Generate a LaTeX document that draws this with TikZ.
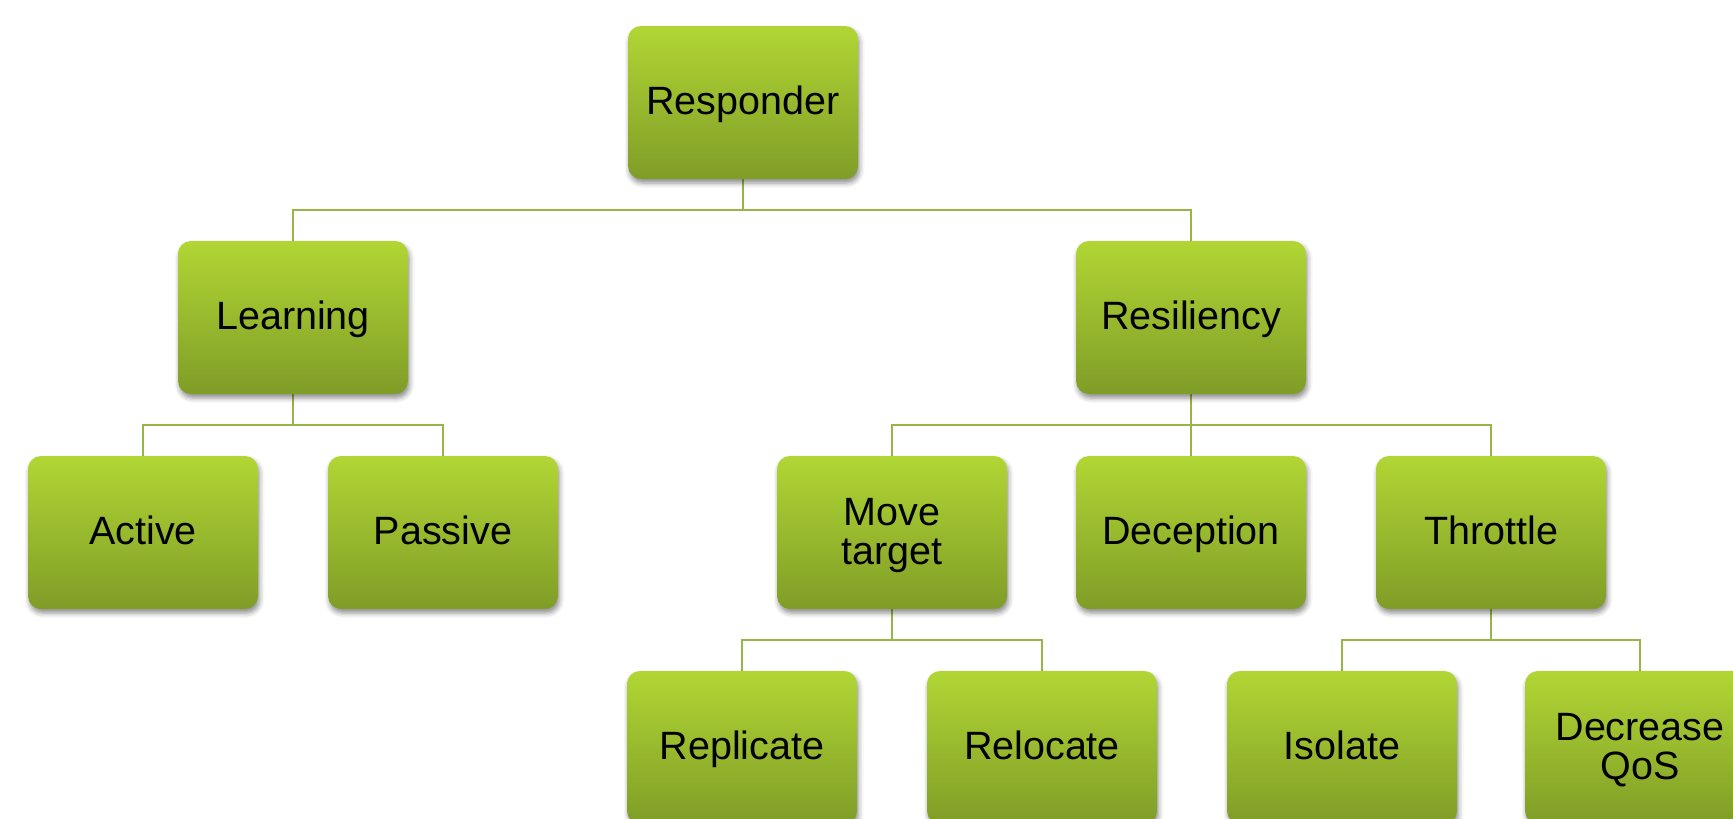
\documentclass[tikz,border=0pt]{standalone}
\usepackage{fontspec}
\setmainfont{Liberation Sans}
\usetikzlibrary{shadows.blur,backgrounds}

\definecolor{boxtop}{HTML}{B1D634}
\definecolor{boxbot}{HTML}{7F9D27}
\definecolor{linkcol}{HTML}{98B548}

% fixed ascent/descent so every label sits on the same baseline
\newcommand{\hstrut}{\rule{0pt}{33pt}}
\newcommand{\dstrut}{\rule[-9pt]{0pt}{9pt}}

\tikzset{
  box/.style={
    rectangle, rounded corners=13pt,
    minimum width=230pt, minimum height=153pt, inner sep=0pt,
    align=center, text=black,
    top color=boxtop, bottom color=boxbot,
    font=\fontsize{39.5}{39}\selectfont,
    blur shadow={shadow xshift=1.5pt, shadow yshift=-4pt,
                 shadow blur radius=5pt, shadow opacity=45}
  },
  link/.style={draw=linkcol, line width=1.5pt}
}

\begin{document}
\begin{tikzpicture}[x=1pt,y=-1pt]
  \useasboundingbox (0,0) rectangle (1733,819);
  \clip (0,0) rectangle (1733,819);

  % tree nodes (column spacing 149.8pt, row spacing 215pt)
  \node[box] (resp)  at (743,102.5)   {\hstrut\dstrut Responder};
  \node[box] (learn) at (293,317.5)   {\hstrut\dstrut Learning};
  \node[box] (resil) at (1191,317.5)  {\hstrut\dstrut Resiliency};
  \node[box] (act)   at (143,532.5)   {\hstrut\dstrut Active};
  \node[box] (pas)   at (443,532.5)   {\hstrut\dstrut Passive};
  \node[box] (move)  at (892,532.5)   {\hstrut Move\\\dstrut target};
  \node[box] (dec)   at (1191,532.5)  {\hstrut\dstrut Deception};
  \node[box] (thr)   at (1491,532.5)  {\hstrut\dstrut Throttle};
  \node[box] (rep)   at (742,747.5)   {\hstrut\dstrut Replicate};
  \node[box] (rel)   at (1042,747.5)  {\hstrut\dstrut Relocate};
  \node[box] (iso)   at (1342,747.5)  {\hstrut\dstrut Isolate};
  \node[box] (dqos)  at (1640,747.5)  {\hstrut Decrease\\\dstrut QoS};

  % levels of the horizontal bus lines
  \coordinate (bus1) at (0,210);
  \coordinate (bus2) at (0,425);
  \coordinate (bus3) at (0,640);

  \begin{scope}[on background layer]
    \foreach \p/\c/\b in {resp/learn/bus1, resp/resil/bus1,
                          learn/act/bus2, learn/pas/bus2,
                          resil/move/bus2, resil/dec/bus2, resil/thr/bus2,
                          move/rep/bus3, move/rel/bus3,
                          thr/iso/bus3, thr/dqos/bus3}
      \draw[link] (\p.south) -- (\p.south |- \b) -| (\c.north);
  \end{scope}
\end{tikzpicture}
\end{document}
